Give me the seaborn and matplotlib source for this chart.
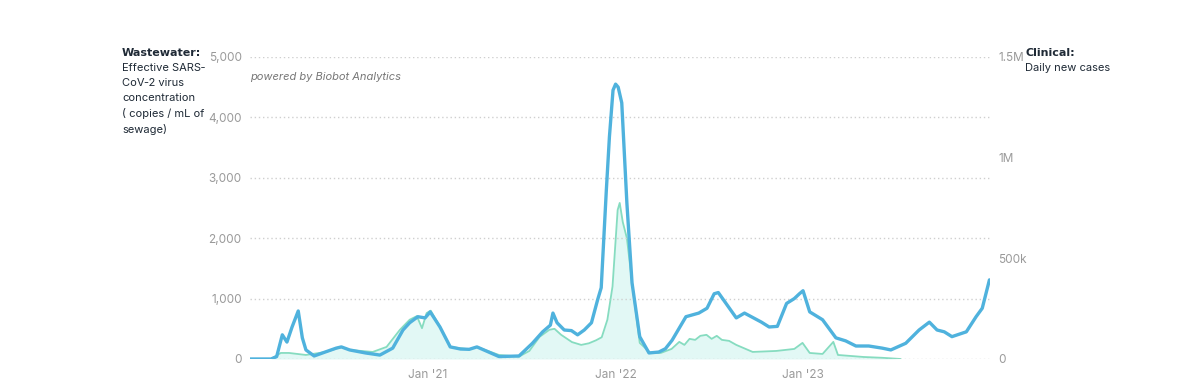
import matplotlib
matplotlib.use("Agg")
import matplotlib.pyplot as plt
import matplotlib.ticker as mticker
import seaborn as sns
import pandas as pd

# wastewater: effective SARS-CoV-2 concentration (copies / mL of sewage)
ww_dates = ["2020-01-20", "2020-03-01", "2020-03-12", "2020-03-23", "2020-04-01", "2020-04-11", "2020-04-23",
            "2020-05-01", "2020-05-08", "2020-05-24", "2020-06-16", "2020-07-06", "2020-07-16", "2020-08-01",
            "2020-09-01", "2020-09-29", "2020-10-24", "2020-11-13", "2020-11-26", "2020-12-12", "2020-12-26",
            "2021-01-05", "2021-01-24", "2021-02-13", "2021-03-05", "2021-03-22", "2021-04-06", "2021-05-19",
            "2021-06-27", "2021-07-23", "2021-08-12", "2021-08-27", "2021-09-01", "2021-09-09", "2021-09-23",
            "2021-10-07", "2021-10-19", "2021-11-01", "2021-11-15", "2021-11-27", "2021-12-04", "2021-12-14",
            "2021-12-20", "2021-12-27", "2022-01-01", "2022-01-06", "2022-01-13", "2022-01-23", "2022-02-02",
            "2022-02-17", "2022-03-07", "2022-03-26", "2022-04-08", "2022-04-21", "2022-05-18", "2022-06-12",
            "2022-06-28", "2022-07-12", "2022-07-20", "2022-08-04", "2022-08-24", "2022-09-09", "2022-10-12",
            "2022-10-27", "2022-11-12", "2022-11-30", "2022-12-15", "2022-12-25", "2023-01-01", "2023-01-14",
            "2023-02-08", "2023-03-06", "2023-03-25", "2023-04-14", "2023-05-09", "2023-06-04", "2023-06-21",
            "2023-07-20", "2023-08-15", "2023-09-04", "2023-09-19", "2023-10-03", "2023-10-18", "2023-11-15",
            "2023-12-04", "2023-12-16", "2023-12-30"]
ww_values = [0, 0, 40, 400, 280, 530, 795,
             350, 150, 50, 120, 180, 200, 150,
             100, 65, 180, 480, 600, 700, 680,
             780, 530, 200, 165, 160, 200, 40,
             50, 260, 450, 560, 760, 600, 480,
             470, 400, 480, 600, 980, 1180, 2800,
             3680, 4450, 4550, 4500, 4240, 2580, 1260,
             370, 100, 115, 170, 310, 700, 760,
             840, 1080, 1100, 920, 680, 760, 610,
             530, 540, 920, 1000, 1080, 1130, 780,
             650, 350, 300, 215, 215, 180, 150,
             260, 480, 610, 480, 450, 370, 450,
             700, 840, 1310]

# clinical: daily new cases (7-day average)
case_dates = ["2020-01-20", "2020-03-01", "2020-03-20", "2020-04-05", "2020-05-08", "2020-06-16",
              "2020-07-16", "2020-08-01", "2020-09-15", "2020-10-12", "2020-11-07", "2020-11-26",
              "2020-12-10", "2020-12-20", "2020-12-29", "2021-01-06", "2021-01-24", "2021-02-13",
              "2021-03-22", "2021-04-06", "2021-05-19", "2021-06-27", "2021-07-17", "2021-08-06",
              "2021-08-25", "2021-09-04", "2021-09-17", "2021-10-08", "2021-10-26", "2021-11-10",
              "2021-11-24", "2021-12-05", "2021-12-16", "2021-12-26", "2022-01-05", "2022-01-09",
              "2022-01-15", "2022-01-23", "2022-02-02", "2022-02-17", "2022-03-10", "2022-03-30",
              "2022-04-20", "2022-05-05", "2022-05-15", "2022-05-25", "2022-06-05", "2022-06-15",
              "2022-06-27", "2022-07-07", "2022-07-17", "2022-07-27", "2022-08-10", "2022-08-24",
              "2022-09-25", "2022-11-10", "2022-12-15", "2022-12-31", "2023-01-14", "2023-02-08",
              "2023-03-01", "2023-03-10", "2023-04-29", "2023-06-04", "2023-07-10"]
case_values = [0, 0, 30000, 30000, 20000, 35000,
               60000, 45000, 35000, 60000, 145000, 195000,
               213000, 153000, 228000, 240000, 160000, 60000,
               48000, 60000, 20000, 12000, 40000, 110000,
               145000, 150000, 120000, 84000, 70000, 78000,
               93000, 108000, 195000, 360000, 740000, 775000,
               680000, 600000, 380000, 80000, 30000, 30000,
               50000, 85000, 70000, 100000, 95000, 115000,
               120000, 100000, 115000, 95000, 90000, 70000,
               35000, 40000, 50000, 80000, 30000, 25000,
               85000, 20000, 10000, 6000, 0]

left_ticks = [0, 1000, 2000, 3000, 4000, 5000]
right_ticks = [0, 500000, 1000000, 1500000]
right_labels = ["0", "500k", "1M", "1.5M"]
x_ticks = ["2021-01-01", "2022-01-01", "2023-01-01"]
x_labels = ["Jan '21", "Jan '22", "Jan '23"]

ww = pd.DataFrame({"date": pd.to_datetime(ww_dates), "value": ww_values})
cases = pd.DataFrame({"date": pd.to_datetime(case_dates), "cases": case_values})

sns.set_theme(style="white")
plt.rcParams["font.family"] = ["Inter", "DejaVu Sans"]

grey = "#9a9a9a"
blue = "#4fb2dd"
green = "#86dcc0"
ink = "#1f2a36"

fig = plt.figure(figsize=(11.92, 3.9), dpi=100)
ax = fig.add_axes([0.2097, 0.0795, 0.6208, 0.7745])
ax2 = ax.twinx()

# clinical on right axis
ax2.fill_between(cases["date"], cases["cases"], color="#d9f6f2", alpha=0.75, lw=0)
sns.lineplot(data=cases, x="date", y="cases", ax=ax2, color=green, lw=1.3)
ax2.set_ylim(0, 1500000)
ax2.set_yticks(right_ticks)
ax2.set_yticklabels(right_labels)
ax2.set_ylabel("")

# wastewater on left axis, drawn above
ax.set_zorder(ax2.get_zorder() + 1)
ax.patch.set_visible(False)
sns.lineplot(data=ww, x="date", y="value", ax=ax, color=blue, lw=2.4,
             solid_joinstyle="round", solid_capstyle="round")
ax.set_ylim(0, 5000)
ax.set_yticks(left_ticks)
ax.yaxis.set_major_formatter(mticker.FuncFormatter(lambda v, p: f"{int(v):,}"))
ax.set_xlim(pd.Timestamp("2020-01-20"), pd.Timestamp("2023-12-31"))
ax.set_xticks(pd.to_datetime(x_ticks))
ax.set_xticklabels(x_labels)
ax.set_xlabel("")
ax.set_ylabel("")

for t in left_ticks:
    ax.axhline(t, color="#cfcfcf", lw=1.0, ls=(0, (1, 2)), zorder=0)

for a in (ax, ax2):
    for s in a.spines.values():
        s.set_visible(False)
ax.tick_params(axis="y", length=0, labelsize=8.5, labelcolor=grey, pad=6)
ax2.tick_params(axis="y", length=0, labelsize=8.5, labelcolor=grey, pad=6)
ax.tick_params(axis="x", length=4, width=0.8, color="#cccccc", labelsize=8.5, labelcolor=grey, pad=3)

ax.text(0.0, 0.935, "powered by Biobot Analytics", transform=ax.transAxes,
        fontsize=8, style="italic", color="#777777", va="center")

fig.text(122 / 1192, 1 - 53 / 390, "Wastewater:", fontsize=8, fontweight="bold",
         family="DejaVu Sans", color=ink, va="center")
fig.text(122 / 1192, 1 - 63 / 390, "Effective SARS\u2011\nCoV\u20112 virus\nconcentration\n( copies / mL of\nsewage)",
         fontsize=8, color=ink, va="top", linespacing=1.6)
fig.text(1025 / 1192, 1 - 53 / 390, "Clinical:", fontsize=8, fontweight="bold",
         family="DejaVu Sans", color=ink, va="center")
fig.text(1025 / 1192, 1 - 68 / 390, "Daily new cases", fontsize=8, color=ink, va="center")

fig.savefig("out.png", dpi=100, facecolor="white")
